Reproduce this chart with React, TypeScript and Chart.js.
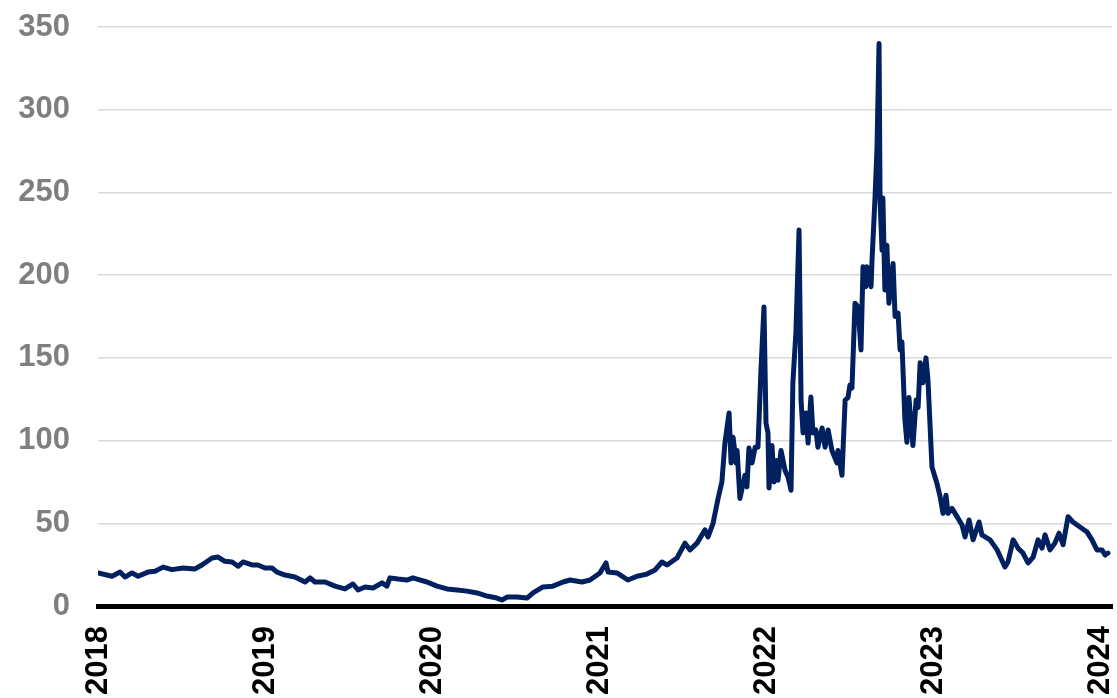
import React, { useEffect, useRef } from "react";
import { Chart, registerables } from "chart.js";

Chart.register(...registerables);

// Decimal years (x) and prices (y)
const dates: number[] = [
  2018.0, 2018.084, 2018.132, 2018.162, 2018.203, 2018.24, 2018.299, 2018.341, 2018.39, 2018.443,
  2018.509, 2018.581, 2018.622, 2018.683, 2018.719, 2018.76, 2018.803, 2018.839, 2018.868, 2018.922,
  2018.958, 2019.0, 2019.042, 2019.072, 2019.12, 2019.179, 2019.24, 2019.27, 2019.299, 2019.36,
  2019.419, 2019.479, 2019.527, 2019.557, 2019.599, 2019.647, 2019.701, 2019.73, 2019.748, 2019.797,
  2019.85, 2019.886, 2019.91, 2019.97, 2020.03, 2020.09, 2020.15, 2020.21, 2020.27, 2020.329,
  2020.389, 2020.419, 2020.449, 2020.509, 2020.569, 2020.605, 2020.665, 2020.724, 2020.785, 2020.827,
  2020.898, 2020.946, 2021.006, 2021.042, 2021.054, 2021.108, 2021.173, 2021.228, 2021.287, 2021.336,
  2021.377, 2021.407, 2021.467, 2021.515, 2021.545, 2021.587, 2021.635, 2021.653, 2021.683, 2021.713,
  2021.736, 2021.754, 2021.779, 2021.791, 2021.803, 2021.821, 2021.827, 2021.844, 2021.874, 2021.886,
  2021.898, 2021.917, 2021.935, 2021.952, 2021.97, 2021.988, 2022.0, 2022.012, 2022.018, 2022.036,
  2022.048, 2022.066, 2022.072, 2022.09, 2022.114, 2022.132, 2022.15, 2022.161, 2022.179, 2022.198,
  2022.21, 2022.222, 2022.24, 2022.252, 2022.269, 2022.281, 2022.299, 2022.311, 2022.336, 2022.354,
  2022.372, 2022.395, 2022.425, 2022.431, 2022.455, 2022.474, 2022.491, 2022.503, 2022.515, 2022.533,
  2022.551, 2022.569, 2022.581, 2022.598, 2022.604, 2022.629, 2022.635, 2022.653, 2022.665, 2022.677,
  2022.683, 2022.695, 2022.7, 2022.712, 2022.724, 2022.736, 2022.761, 2022.773, 2022.791, 2022.803,
  2022.814, 2022.832, 2022.844, 2022.856, 2022.868, 2022.88, 2022.899, 2022.911, 2022.923, 2022.94,
  2022.958, 2022.97, 2022.994, 2023.024, 2023.043, 2023.06, 2023.078, 2023.09, 2023.114, 2023.144,
  2023.174, 2023.192, 2023.216, 2023.24, 2023.276, 2023.293, 2023.342, 2023.384, 2023.431, 2023.449,
  2023.48, 2023.509, 2023.539, 2023.569, 2023.6, 2023.629, 2023.653, 2023.671, 2023.701, 2023.73,
  2023.755, 2023.779, 2023.809, 2023.838, 2023.88, 2023.923, 2023.952, 2023.982, 2024.012, 2024.031,
  2024.048,
];

const prices: number[] = [
  20, 18, 20.5, 17.5, 20, 18, 20.5, 21, 23.5, 22,
  23, 22.4, 24.8, 29, 29.6, 27, 26.6, 24, 26.6, 24.8,
  24.8, 23, 23, 20.5, 18.7, 17.5, 14.5, 17, 14.5, 14.5,
  12, 10.3, 13.3, 9.7, 11.5, 10.9, 14, 12, 17, 16.3,
  15.7, 17, 16.3, 14.5, 12, 10.3, 9.7, 9, 7.9, 6,
  4.8, 3.6, 5.4, 5.4, 4.8, 7.9, 11.5, 12, 14.5, 15.7,
  14.5, 15.7, 20, 26, 20.5, 20, 15.7, 18, 19.3, 21.8,
  26.6, 24.8, 29, 38, 33.9, 38, 46, 41.7, 50, 65,
  75, 98.5, 116.7, 86.5, 102, 86.5, 94, 65, 79, 72,
  95.5, 86.5, 96, 96, 142.7, 180.8, 110.6, 104.6, 71.3, 97,
  75, 88, 76, 94, 82, 78, 70, 134.8, 165, 227.3,
  124.5, 104.6, 116.7, 98.5, 126.4, 104.6, 106.4, 96, 107.6, 96,
  106.4, 94, 86.5, 94, 79, 124.5, 126, 133.6, 131.8, 183,
  181, 154.8, 205, 193, 205, 193, 209, 247, 277.5, 340,
  245.5, 215, 246.6, 191, 218, 183, 207, 175, 177, 154.8,
  159.6, 112.5, 99, 126, 110.6, 97, 124.5, 120, 147, 135,
  150, 136.6, 84, 74, 66, 56, 67, 56, 59, 54,
  49, 41.7, 52, 40, 50.8, 43, 40, 33.9, 23.6, 26.6,
  40, 35, 32, 26, 29.6, 40, 35, 43, 33.9, 38,
  44, 37, 54, 50.8, 47.8, 44.7, 40, 33.9, 33.9, 30.8,
  32,
];

const yearTicks: number[] = [2018, 2019, 2020, 2021, 2022, 2023, 2024];
const valueTicks: number[] = [0, 50, 100, 150, 200, 250, 300, 350];

const FONT = "'Liberation Sans', Arial, Helvetica, sans-serif";

export default function App() {
  const ref = useRef<HTMLCanvasElement>(null);

  useEffect(() => {
    if (!ref.current) return;
    const chart = new Chart(ref.current, {
      type: "line",
      data: {
        datasets: [
          {
            data: dates.map((d, i) => ({ x: d, y: prices[i] })),
            borderColor: "#002060",
            borderWidth: 5,
            pointRadius: 0,
            tension: 0,
            fill: false,
            borderJoinStyle: "round",
            borderCapStyle: "round",
          },
        ],
      },
      options: {
        animation: false,
        responsive: false,
        maintainAspectRatio: false,
        layout: { padding: { top: 27, right: 5, left: 0, bottom: 0 } },
        plugins: { legend: { display: false }, tooltip: { enabled: false } },
        scales: {
          x: {
            type: "linear",
            min: 2018,
            max: 2024.072,
            afterBuildTicks: (s: any) => {
              s.ticks = yearTicks.map((v) => ({ value: v }));
            },
            afterFit: (s: any) => {
              s.paddingLeft = 0;
              s.paddingRight = 0;
              s.height = 92;
            },
            grid: { display: false, drawTicks: false },
            border: { display: true, color: "#000000", width: 5 },
            ticks: {
              color: "#000000",
              font: { family: FONT, weight: "bold", size: 31 },
              minRotation: 90,
              maxRotation: 90,
              padding: 20,
              autoSkip: false,
              callback: (v: any) => String(v),
            },
          },
          y: {
            min: 0,
            max: 350,
            afterBuildTicks: (s: any) => {
              s.ticks = valueTicks.map((v) => ({ value: v }));
            },
            afterFit: (s: any) => {
              s.paddingTop = 0;
              s.paddingBottom = 0;
              s.width = 98;
            },
            grid: { color: "#d9d9d9", lineWidth: 1.5, drawTicks: false },
            border: { display: false },
            ticks: {
              color: "#7f7f7f",
              font: { family: FONT, weight: "bold", size: 31 },
              padding: 28,
              callback: (v: any) => String(v),
            },
          },
        },
      },
    } as any);
    return () => chart.destroy();
  }, []);

  return (
    <div style={{ position: "fixed", left: 0, top: 0, width: 1117, height: 698, background: "#fff" }}>
      <canvas ref={ref} width={1117} height={698} style={{ display: "block" }} />
    </div>
  );
}
